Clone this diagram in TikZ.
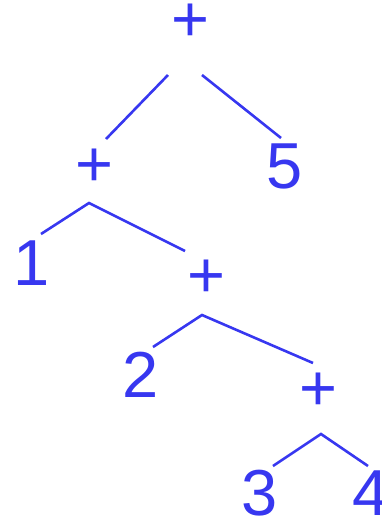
\documentclass[tikz,border=0pt]{standalone}
\usepackage{fontspec}
\setmainfont{Liberation Sans}
\usepackage{xcolor}
\definecolor{treeblue}{RGB}{55,55,240}
\usetikzlibrary{positioning}

\begin{document}
\begin{tikzpicture}[
  x=1pt, y=-1pt,
  sym/.style={inner sep=0pt, text=treeblue, font=\fontsize{65}{70}\selectfont},
  edge/.style={draw=treeblue, line width=2.6pt}
]
\useasboundingbox (0,0) rectangle (382,520);

% Operators and leaves
\node[sym] (root) at (190.5, 23) {+};
\node[sym] (plusA) at (94.5, 167.5) {+};
\node[sym] (five) at (285, 166) {5};
\node[sym] (one) at (31.5, 263.5) {1};
\node[sym] (plusB) at (206.5, 279) {+};
\node[sym] (two) at (140.5, 375) {2};
\node[sym] (plusC) at (318.5, 391.5) {+};
\node[sym] (three) at (260, 493.5) {3};
\node[sym] (four) at (371, 493.5) {4};

% Branch ends
\coordinate (rootL) at (168, 75);
\coordinate (rootR) at (202, 75);
\coordinate (plusAtop) at (106, 139);
\coordinate (fivetop) at (281, 138);
\coordinate (peakA) at (89, 203);
\coordinate (onetop) at (41, 234);
\coordinate (plusBtop) at (185, 251);
\coordinate (peakB) at (202, 315);
\coordinate (twotop) at (153, 347);
\coordinate (plusCtop) at (313, 363);
\coordinate (peakC) at (321, 434);
\coordinate (threetop) at (273, 466);
\coordinate (fourtop) at (368, 466);

% Edges
\draw[edge] (rootL) -- (plusAtop);
\draw[edge] (rootR) -- (fivetop);
\draw[edge] (onetop) -- (peakA) -- (plusBtop);
\draw[edge] (twotop) -- (peakB) -- (plusCtop);
\draw[edge] (threetop) -- (peakC) -- (fourtop);

\end{tikzpicture}
\end{document}
